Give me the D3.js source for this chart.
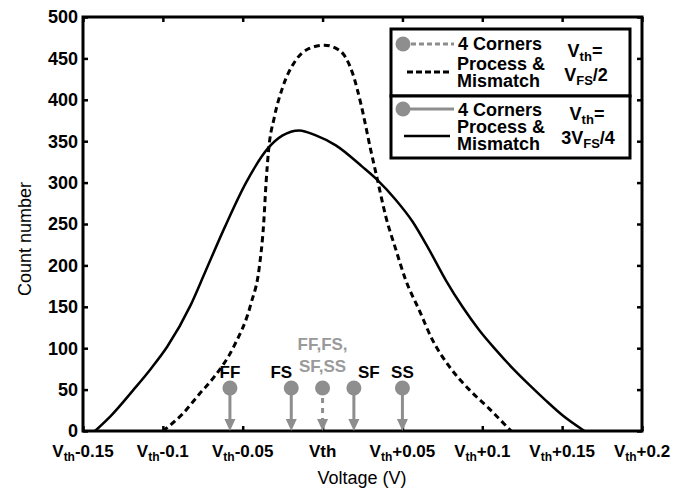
<!DOCTYPE html>
<html>
<head>
<meta charset="utf-8">
<script src="https://cdn.jsdelivr.net/npm/d3@7"></script>
<style>
  body { margin: 0; background: #fff; }
  text { font-family: "Liberation Sans", Arial, sans-serif; }
</style>
</head>
<body>
<div id="vis"></div>
<script>
// data
let xTicks = [-0.15, -0.1, -0.05, 0, 0.05, 0.1, 0.15, 0.2]
let xTickLabels = ['-0.15', '-0.1', '-0.05', '', '+0.05', '+0.1', '+0.15', '+0.2']
let yTicks = [0, 50, 100, 150, 200, 250, 300, 350, 400, 450, 500]

// Vth = 3VFS/4, process & mismatch (solid)
let solidV = [-0.1425, -0.1327, -0.1183, -0.1076, -0.0972, -0.0826, -0.0735, -0.0615, -0.0479, -0.0344,
  -0.025, -0.0146, -0.0042, 0.0083, 0.025, 0.0344, 0.0459, 0.0563, 0.0667, 0.0772,
  0.0876, 0.098, 0.1085, 0.1189, 0.1293, 0.1397, 0.1502, 0.164]
let solidCount = [0, 18, 50, 75, 102, 152, 192, 245, 300, 341,
  357, 363, 357, 345, 319, 303, 279, 253, 219, 182,
  150, 122, 98, 76, 56, 37, 19, 0]

// Vth = VFS/2, process & mismatch (dashed)
let dashV = [-0.1, -0.0875, -0.077, -0.068, -0.0556, -0.0448, -0.0396, -0.0369, -0.0354, -0.0338,
  -0.0302, -0.025, -0.0167, -0.0083, 0.001, 0.0104, 0.0188, 0.024, 0.0302, 0.0344,
  0.0396, 0.0459, 0.0521, 0.0605, 0.0688, 0.0793, 0.0918, 0.1043, 0.118]
let dashCount = [0, 21, 45, 65, 102, 154, 198, 250, 299, 339,
  379, 415, 448, 462, 466, 460, 432, 395, 339, 303,
  259, 219, 182, 146, 110, 78, 50, 27, 0]

// 4 corners
let cornerNames = ['FF', 'FS', 'SF', 'SS']
let cornerV = [-0.058, -0.0196, 0.0196, 0.05]
let cornerHalfV = 0   // all four corners for Vth = VFS/2
let cornerCount = 52

let margin = { top: 17, left: 83, right: 48, bottom: 61 },
  W = 690, H = 492,
  width = W - margin.left - margin.right,
  height = H - margin.top - margin.bottom

let svg = d3.select('#vis').append('svg')
  .attr('width', W).attr('height', H)

let x = d3.scaleLinear().domain([-0.15, 0.2]).range([margin.left, margin.left + width])
let y = d3.scaleLinear().domain([0, 500]).range([margin.top + height, margin.top])

let gray = '#8e8e8e'

// inward ticks on all four sides
svg.append('g').attr('transform', 'translate(0,' + y(0) + ')')
  .call(d3.axisBottom(x).tickValues(xTicks).tickSizeInner(-5).tickSizeOuter(0).tickFormat(''))
svg.append('g').attr('transform', 'translate(0,' + y(500) + ')')
  .call(d3.axisTop(x).tickValues(xTicks).tickSizeInner(-5).tickSizeOuter(0).tickFormat(''))
svg.append('g').attr('transform', 'translate(' + x(-0.15) + ',0)')
  .call(d3.axisLeft(y).tickValues(yTicks).tickSizeInner(-5).tickSizeOuter(0).tickFormat(''))
svg.append('g').attr('transform', 'translate(' + x(0.2) + ',0)')
  .call(d3.axisRight(y).tickValues(yTicks).tickSizeInner(-5).tickSizeOuter(0).tickFormat(''))
svg.selectAll('.tick line').attr('stroke', '#000').attr('stroke-width', 2.5)
svg.selectAll('.domain').remove()

// frame
svg.append('rect')
  .attr('x', x(-0.15)).attr('y', y(500))
  .attr('width', x(0.2) - x(-0.15)).attr('height', y(0) - y(500))
  .attr('fill', 'none').attr('stroke', '#000').attr('stroke-width', 3)

// y tick labels
svg.selectAll('.ylab').data(yTicks).enter().append('text')
  .attr('x', x(-0.15) - 5).attr('y', d => y(d)).attr('dy', '0.36em')
  .attr('text-anchor', 'end').attr('font-size', 18).attr('font-weight', 'bold')
  .text(d => d)

// x tick labels, V with subscript th
xTicks.forEach(function (v, i) {
  let t = svg.append('text')
    .attr('x', x(v)).attr('y', 457)
    .attr('text-anchor', 'middle').attr('font-size', 17).attr('font-weight', 'bold')
  if (v === 0) { t.text('Vth'); return }
  t.append('tspan').text('V')
  t.append('tspan').attr('font-size', 12).attr('dy', 4).text('th')
  t.append('tspan').attr('dy', -4).text(xTickLabels[i])
})

// axis titles
svg.append('text').attr('x', 362).attr('y', 484).attr('text-anchor', 'middle')
  .attr('font-size', 18).text('Voltage (V)')
svg.append('text').attr('transform', 'translate(31,239) rotate(-90)').attr('text-anchor', 'middle')
  .attr('font-size', 18).text('Count number')

// curves
let line = d3.line().x(d => x(d[0])).y(d => y(d[1])).curve(d3.curveMonotoneX)
svg.append('path')
  .datum(dashV.map((v, i) => [v, dashCount[i]]))
  .attr('d', line).attr('fill', 'none').attr('stroke', '#000')
  .attr('stroke-width', 3).attr('stroke-dasharray', '6,4')
svg.append('path')
  .datum(solidV.map((v, i) => [v, solidCount[i]]))
  .attr('d', line).attr('fill', 'none').attr('stroke', '#000')
  .attr('stroke-width', 2.5)

// corner markers: circle, shaft and arrow head down to the axis
function corner(v, dashed) {
  let cx = x(v), cy = y(cornerCount), base = y(0)
  svg.append('line').attr('x1', cx).attr('x2', cx).attr('y1', cy).attr('y2', base - 10)
    .attr('stroke', gray).attr('stroke-width', 3)
    .attr('stroke-dasharray', dashed ? '5,5' : null)
  svg.append('path')
    .attr('d', 'M' + (cx - 5.5) + ',' + (base - 12) + 'L' + (cx + 5.5) + ',' + (base - 12) + 'L' + cx + ',' + base + 'Z')
    .attr('fill', gray)
  svg.append('circle').attr('cx', cx).attr('cy', cy).attr('r', 7.5).attr('fill', gray)
}
cornerV.forEach(v => corner(v, false))
corner(cornerHalfV, true)

let labelDx = [0, -10, 15, 0]
cornerNames.forEach(function (n, i) {
  svg.append('text').attr('x', x(cornerV[i]) + labelDx[i]).attr('y', 378)
    .attr('text-anchor', 'middle').attr('font-size', 17).attr('font-weight', 'bold')
    .text(n)
})
svg.append('text').attr('x', x(cornerHalfV)).attr('y', 350)
  .attr('text-anchor', 'middle').attr('font-size', 17).attr('font-weight', 'bold')
  .attr('fill', '#9a9a9a').text(cornerNames.slice(0, 2).join(',') + ',')
svg.append('text').attr('x', x(cornerHalfV)).attr('y', 372)
  .attr('text-anchor', 'middle').attr('font-size', 17).attr('font-weight', 'bold')
  .attr('fill', '#9a9a9a').text(cornerNames.slice(2).join(','))

// legend
let lg = svg.append('g')
lg.append('rect').attr('x', 391).attr('y', 29).attr('width', 239).attr('height', 67)
  .attr('fill', '#fff').attr('stroke', '#000').attr('stroke-width', 3)
lg.append('rect').attr('x', 391).attr('y', 96).attr('width', 239).attr('height', 62)
  .attr('fill', '#fff').attr('stroke', '#000').attr('stroke-width', 3)

function legText(tx, ty, str) {
  lg.append('text').attr('x', tx).attr('y', ty).attr('font-size', 18)
    .attr('font-weight', 'bold').text(str)
}
function subText(cx, ty, parts) {
  let t = lg.append('text').attr('x', cx).attr('y', ty).attr('text-anchor', 'middle')
    .attr('font-size', 18).attr('font-weight', 'bold')
  let shift = 0
  parts.forEach(function (p) {
    let s = t.append('tspan').text(p[0])
    if (p[1]) { s.attr('font-size', 13).attr('dy', 4 - shift); shift = 4 }
    else { s.attr('dy', -shift); shift = 0 }
  })
}

// box 1: Vth = VFS/2
lg.append('line').attr('x1', 403).attr('x2', 454).attr('y1', 44).attr('y2', 44)
  .attr('stroke', gray).attr('stroke-width', 3).attr('stroke-dasharray', '5,3')
lg.append('circle').attr('cx', 403).attr('cy', 44).attr('r', 7.5).attr('fill', gray)
legText(458, 50, '4 Corners')
lg.append('line').attr('x1', 407).attr('x2', 451).attr('y1', 72).attr('y2', 72)
  .attr('stroke', '#000').attr('stroke-width', 3).attr('stroke-dasharray', '6,3')
legText(457, 70, 'Process &')
legText(457, 87, 'Mismatch')
subText(585, 57, [['V'], ['th', true], ['=']])
subText(586, 81, [['V'], ['FS', true], ['/2']])

// box 2: Vth = 3VFS/4
lg.append('line').attr('x1', 403).attr('x2', 454).attr('y1', 109).attr('y2', 109)
  .attr('stroke', gray).attr('stroke-width', 3)
lg.append('circle').attr('cx', 403).attr('cy', 109).attr('r', 7.5).attr('fill', gray)
legText(458, 116, '4 Corners')
lg.append('line').attr('x1', 404).attr('x2', 450).attr('y1', 136).attr('y2', 136)
  .attr('stroke', '#000').attr('stroke-width', 2.5)
legText(457, 133, 'Process &')
legText(457, 150, 'Mismatch')
subText(587, 120, [['V'], ['th', true], ['=']])
subText(588, 144, [['3V'], ['FS', true], ['/4']])
</script>
</body>
</html>
